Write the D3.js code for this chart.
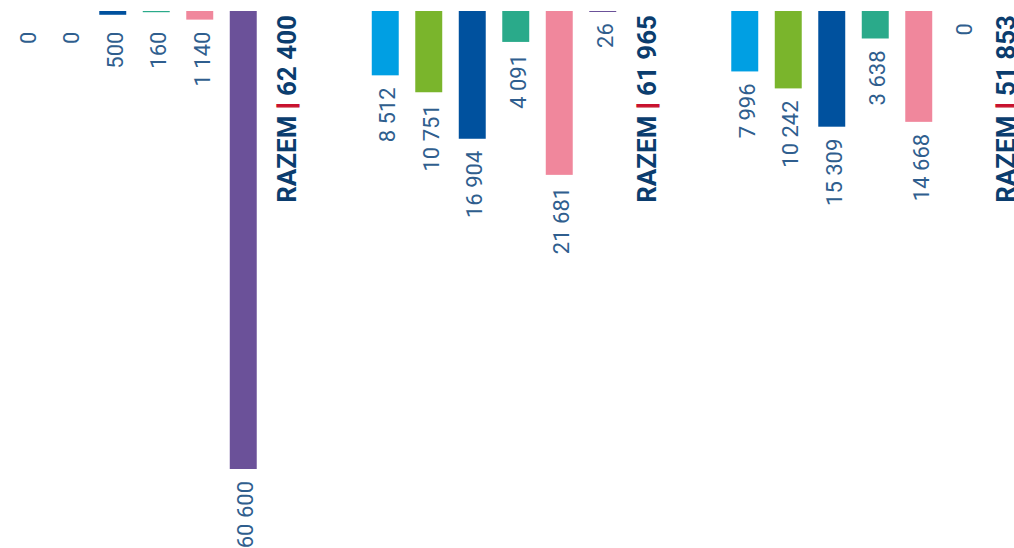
<!DOCTYPE html>
<html>
<head>
<meta charset="utf-8">
<script src="https://cdn.jsdelivr.net/npm/d3@7"></script>
<style>
  body { margin: 0; background: #fff; }
  text { font-family: Roboto, "Open Sans", sans-serif; }
</style>
</head>
<body>
<script>
// Data
var groups = ["A", "B", "C"];
var series = ["s1", "s2", "s3", "s4", "s5", "s6"];
var colors = ["#009fe3", "#7ab52c", "#00519e", "#2aaa8a", "#f0879c", "#6b5199"];
var valuesA = [0, 0, 500, 160, 1140, 60600];
var valuesB = [8512, 10751, 16904, 4091, 21681, 26];
var valuesC = [7996, 10242, 15309, 3638, 14668, 0];
var totalLabel = "RAZEM";

var width = 1014, height = 548;
var smallValue = 2000; // labels of bars under this are lined up per group

var rows = [valuesA, valuesB, valuesC].map(function(vals, i) {
  var small = vals.filter(function(v) { return v < smallValue; });
  return { group: groups[i], values: vals, total: d3.sum(vals), smallMax: d3.max(small) || 0 };
});

var fmt = d3.formatLocale({ decimal: ",", thousands: " ", grouping: [3], currency: ["", ""] }).format(",d");

var svg = d3.select("body").append("svg")
    .attr("width", width)
    .attr("height", height);

// Outer band: one per group; inner band: 6 bars + one slot for the total label
var x0 = d3.scaleBand().domain(groups).range([4, 1027.5]).paddingInner(0.153).paddingOuter(0);
var slots = series.concat(["total"]);
var x1 = d3.scaleBand().domain(slots).range([0, x0.bandwidth()]).paddingInner(0.38).paddingOuter(0.19);
var y = d3.scaleLinear()
    .domain([0, d3.max(rows, function(r) { return d3.max(r.values); })])
    .range([11, 469]);

var color = d3.scaleOrdinal().domain(series).range(colors);

var g = svg.selectAll("g.grp").data(rows).enter().append("g")
    .attr("class", "grp")
    .attr("transform", function(d) { return "translate(" + x0(d.group) + ",0)"; });

var cells = g.selectAll("g.cell")
    .data(function(d) {
      return d.values.map(function(v, i) {
        return { key: series[i], value: v, labelAt: v < smallValue ? d.smallMax : v };
      });
    })
    .enter().append("g").attr("class", "cell");

cells.filter(function(d) { return d.value > 0; })
  .append("rect")
    .attr("x", function(d) { return x1(d.key); })
    .attr("y", y(0))
    .attr("width", x1.bandwidth())
    .attr("height", function(d) { return Math.max(1, y(d.value) - y(0)); })
    .attr("fill", function(d) { return color(d.key); });

cells.append("text")
    .attr("transform", function(d) {
      var ly = y(d.labelAt) + 12;
      return "translate(" + (x1(d.key) + x1.bandwidth() / 2 + 2) + "," + ly + ") rotate(-90)";
    })
    .attr("text-anchor", "end")
    .attr("dy", "0.36em")
    .attr("fill", "#2f5e8e")
    .style("font-size", "22px")
    .text(function(d) { return fmt(d.value); });

// total label
var tot = g.append("text")
    .attr("transform", "translate(" + (x1("total") + x1.bandwidth() / 2) + "," + 15 + ") rotate(-90)")
    .attr("text-anchor", "end")
    .attr("dy", "0.36em")
    .attr("fill", "#0b3d6e")
    .style("font-size", "26px")
    .style("font-weight", "bold");
tot.append("tspan").text(totalLabel + " ");
tot.append("tspan").attr("fill", "#c8102e").attr("stroke", "#c8102e").attr("stroke-width", 1.2).text("|");
tot.append("tspan").text(function(d) { return " " + fmt(d.total); });
</script>
</body>
</html>
